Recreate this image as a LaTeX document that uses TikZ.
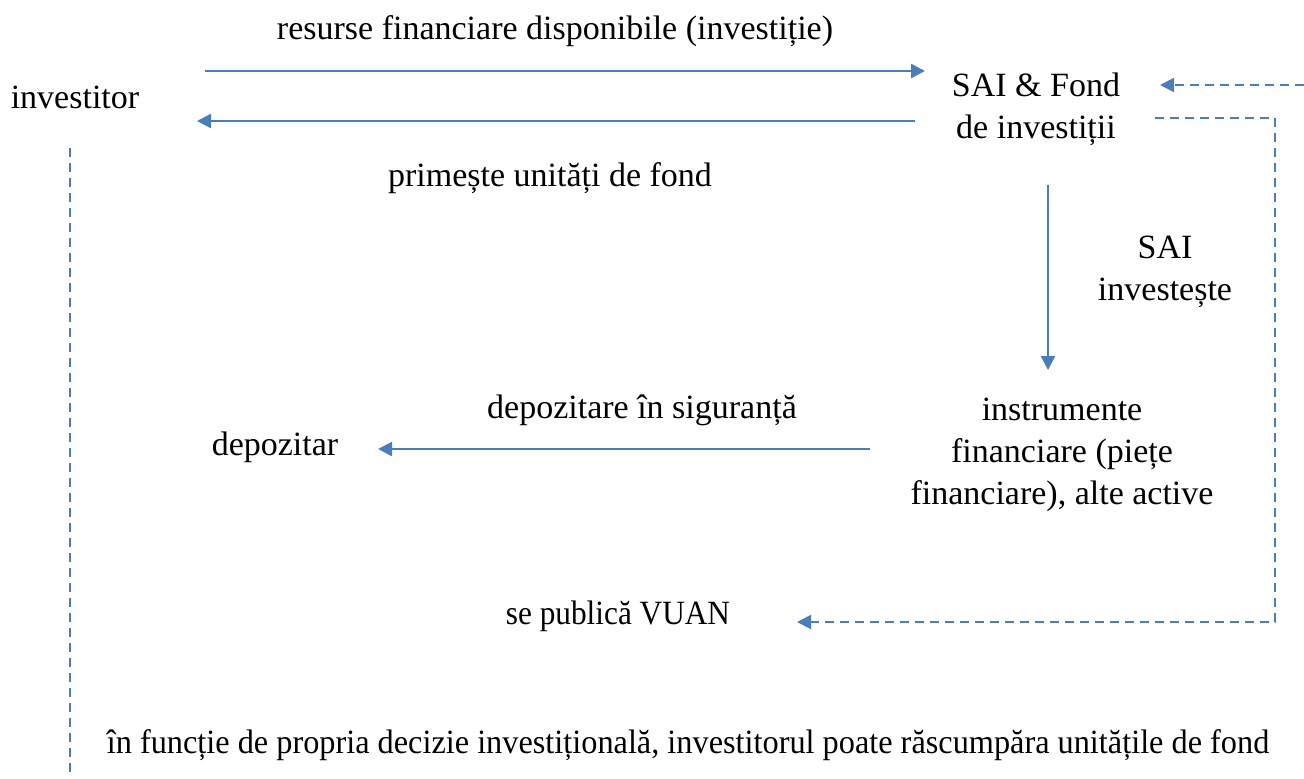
\documentclass[tikz,border=0pt]{standalone}
\usepackage{fontspec}
\setmainfont{Liberation Serif}
\usetikzlibrary{arrows.meta}
\definecolor{flowblue}{HTML}{4A7EBB}
\tikzset{
	flow/.style={draw=flowblue,line width=1.2pt,-{Triangle[width=7pt,length=7pt]}},
	flowdash/.style={flow,line width=1pt,dash pattern=on 4.5pt off 3pt},
	txt/.style={inner sep=0pt,align=center,font=\fontsize{17}{21}\selectfont},
	narrowtxt/.style={txt,xscale=0.95}
}
\begin{document}
\begin{tikzpicture}[x=0.5pt,y=-0.5pt]
			\useasboundingbox (0,0) rectangle (1304,778);
			%Participants
			\node [txt] (inv) at (75,97) {investitor};
			\node [txt] (sai) at (1036,109) {SAI \& Fond\\de investiții};
			\node [txt] (instr) at (1062,455) {instrumente\\financiare (piețe\\financiare), alte active};
			\node [txt] (dep) at (275,447) {depozitar};
			\node [txt,xscale=0.92] (vuan) at (618,616) {se publică VUAN};
			%Labels of the arrows
			\node [txt] (lblres) at (555,31) {resurse financiare disponibile (investiție)};
			\node [txt] (lblprim) at (550,178) {primește unități de fond};
			\node [txt] (lblsai) at (1165,272) {SAI\\investește};
			\node [txt] (lbldep) at (642,410) {depozitare în siguranță};
			\node [narrowtxt] (lblrasc) at (688,745) {în funcție de propria decizie investițională, investitorul poate răscumpăra unitățile de fond};
			%Ends of the arrows
			\coordinate (resA) at (205,71);
			\coordinate (resB) at (925,71);
			\coordinate (primA) at (915,121);
			\coordinate (primB) at (197,121);
			\coordinate (investA) at (1048,185);
			\coordinate (investB) at (1048,370);
			\coordinate (depA) at (870,449);
			\coordinate (depB) at (378,449);
			\coordinate (backA) at (1304,85);
			\coordinate (backB) at (1160,85);
			\coordinate (pubA) at (1155,118);
			\coordinate (pubC) at (1275,118);
			\coordinate (pubD) at (1275,622);
			\coordinate (pubB) at (797,622);
			\coordinate (rascA) at (70,148);
			\coordinate (rascB) at (70,778);
			%Solid arrows
			\draw [flow] (resA) -- (resB);
			\draw [flow] (primA) -- (primB);
			\draw [flow] (investA) -- (investB);
			\draw [flow] (depA) -- (depB);
			%Dashed arrows
			\draw [flowdash] (backA) -- (backB);
			\draw [flowdash] (pubA) -- (pubC) -- (pubD) -- (pubB);
			\draw [flowdash,-] (rascA) -- (rascB);
\end{tikzpicture}
\end{document}
